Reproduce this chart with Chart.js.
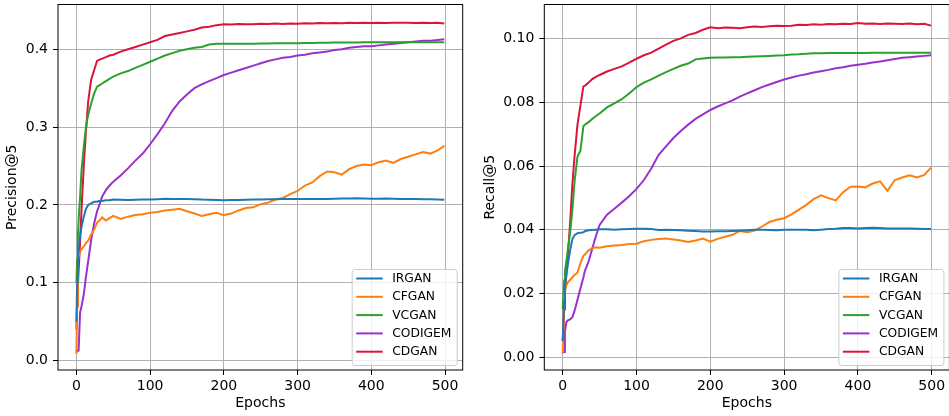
<!DOCTYPE html>
<html>
<head>
<meta charset="utf-8">
<script src="https://cdn.jsdelivr.net/npm/chart.js@4.4.1/dist/chart.umd.min.js"></script>
<style>
  html, body { margin: 0; padding: 0; background: #fff; overflow: hidden; width: 949px; height: 416px; }
  canvas { position: absolute; top: 0; }
  #precisionChart { left: 0; }
  #recallChart { left: 475px; }
</style>
</head>
<body>
<canvas id="precisionChart" width="475" height="416"></canvas>
<canvas id="recallChart" width="476" height="416"></canvas>
<script>
// training epochs at which each model was evaluated
const epochs = [0, 1, 2, 3, 5, 7, 10, 13, 16, 20, 24, 28, 30, 35, 40, 45, 50,
    60, 70, 80, 90, 100, 110, 120, 130, 140, 150, 160, 170, 180, 190, 200,
    210, 220, 230, 240, 250, 260, 270, 280, 290, 300, 310, 320, 330, 340, 350,
    360, 370, 380, 390, 400, 410, 420, 430, 440, 450, 460, 470, 480, 490, 499];

const models = ['IRGAN', 'CFGAN', 'VCGAN', 'CODIGEM', 'CDGAN'];
const colors = ['#1f77b4', '#ff7f0e', '#2ca02c', '#9932cc', '#dc143c'];

const xTicks = [0, 100, 200, 300, 400, 500];
const precisionTicks = [0.0, 0.1, 0.2, 0.3, 0.4];
const recallTicks = [0.00, 0.02, 0.04, 0.06, 0.08, 0.10];

// Precision@5
const precIRGAN = [0.05, 0.10, 0.13, 0.145, 0.16, 0.172, 0.185, 0.195, 0.200, 0.202, 0.204, 0.204, 0.205, 0.205, 0.206, 0.206, 0.207,
    0.2068, 0.2065, 0.2068, 0.2070, 0.2071, 0.2075, 0.2080, 0.2078, 0.2076, 0.2078, 0.2075, 0.2070, 0.2068, 0.2065, 0.2062,
    0.2063, 0.2065, 0.2068, 0.2070, 0.2072, 0.2073, 0.2075, 0.2077, 0.2078, 0.2078, 0.2077, 0.2076, 0.2077, 0.2078, 0.2080,
    0.2082, 0.2084, 0.2086, 0.2082, 0.2080, 0.2081, 0.2082, 0.2080, 0.2078, 0.2077, 0.2076, 0.2075, 0.2073, 0.2070, 0.2066];
const precCFGAN = [0.009, 0.07, 0.128, 0.134, 0.140, 0.143, 0.147, 0.151, 0.154, 0.162, 0.168, 0.177, 0.179, 0.184, 0.180, 0.183, 0.186,
    0.182, 0.185, 0.187, 0.188, 0.190, 0.191, 0.193, 0.194, 0.195, 0.192, 0.189, 0.186, 0.188, 0.190, 0.187,
    0.189, 0.193, 0.196, 0.197, 0.201, 0.203, 0.207, 0.209, 0.214, 0.218, 0.225, 0.229, 0.237, 0.243, 0.242,
    0.239, 0.246, 0.250, 0.252, 0.251, 0.255, 0.257, 0.254, 0.259, 0.262, 0.265, 0.268, 0.266, 0.270, 0.276];
const precVCGAN = [0.10, 0.13, 0.16, 0.18, 0.21, 0.245, 0.275, 0.300, 0.316, 0.330, 0.343, 0.352, 0.353, 0.356, 0.359, 0.362, 0.365,
    0.369, 0.372, 0.376, 0.380, 0.384, 0.388, 0.392, 0.395, 0.398, 0.400, 0.402, 0.403, 0.406, 0.407, 0.407,
    0.407, 0.407, 0.407, 0.4072, 0.4074, 0.4075, 0.4076, 0.4077, 0.4078, 0.4078, 0.408, 0.4082, 0.4083, 0.4085, 0.4086,
    0.4087, 0.4088, 0.4088, 0.4089, 0.409, 0.409, 0.409, 0.409, 0.409, 0.409, 0.409, 0.409, 0.409, 0.409, 0.409];
const precCODIGEM = [0.014, 0.012, 0.012, 0.013, 0.062, 0.070, 0.085, 0.108, 0.128, 0.155, 0.176, 0.192, 0.197, 0.211, 0.219, 0.225, 0.230,
    0.238, 0.247, 0.257, 0.266, 0.278, 0.291, 0.305, 0.321, 0.333, 0.342, 0.350, 0.355, 0.359, 0.363, 0.367,
    0.370, 0.373, 0.376, 0.379, 0.382, 0.385, 0.387, 0.389, 0.390, 0.392, 0.393, 0.395, 0.396, 0.397, 0.399,
    0.400, 0.402, 0.403, 0.404, 0.404, 0.405, 0.406, 0.407, 0.408, 0.409, 0.410, 0.411, 0.411, 0.412, 0.413];
const precCDGAN = [0.04, 0.07, 0.095, 0.115, 0.152, 0.195, 0.250, 0.295, 0.333, 0.361, 0.373, 0.385, 0.386, 0.388, 0.390, 0.392, 0.393,
    0.397, 0.400, 0.403, 0.406, 0.409, 0.412, 0.417, 0.419, 0.421, 0.423, 0.425, 0.428, 0.429, 0.431, 0.432,
    0.4318, 0.4325, 0.4320, 0.4322, 0.4328, 0.4324, 0.4330, 0.4326, 0.4332, 0.4329, 0.4335, 0.4331, 0.4336, 0.4333, 0.4338,
    0.4334, 0.4339, 0.4336, 0.4341, 0.4337, 0.4340, 0.4338, 0.4342, 0.4339, 0.4341, 0.4338, 0.4340, 0.4337, 0.4339, 0.4330];

// Recall@5
const recIRGAN = [0.005, 0.012, 0.018, 0.022, 0.026, 0.029, 0.0335, 0.037, 0.0383, 0.0389, 0.0390, 0.0392, 0.0395, 0.0398, 0.0399, 0.0400, 0.0401,
    0.0401, 0.0400, 0.0401, 0.0402, 0.0403, 0.0403, 0.0402, 0.0399, 0.0400, 0.0399, 0.0398, 0.0397, 0.0396, 0.0394, 0.0394,
    0.0395, 0.0395, 0.0396, 0.0397, 0.0398, 0.0400, 0.0400, 0.0399, 0.0398, 0.0400, 0.0400, 0.0400, 0.0400, 0.0398, 0.0400,
    0.0402, 0.0403, 0.0405, 0.0405, 0.0404, 0.0405, 0.0406, 0.0405, 0.0404, 0.0404, 0.0404, 0.0404, 0.0403, 0.0402, 0.0402];
const recCFGAN = [0.001, 0.010, 0.019, 0.021, 0.0225, 0.0235, 0.0242, 0.025, 0.0258, 0.0265, 0.0295, 0.0318, 0.0322, 0.0335, 0.0342, 0.0345, 0.0343,
    0.0348, 0.0350, 0.0352, 0.0355, 0.0356, 0.0364, 0.0368, 0.0371, 0.0372, 0.0369, 0.0366, 0.0361, 0.0366, 0.0372, 0.0362,
    0.0371, 0.0378, 0.0384, 0.0396, 0.0392, 0.0397, 0.0410, 0.0424, 0.0431, 0.0436, 0.0448, 0.0463, 0.0478, 0.0496, 0.0508,
    0.0499, 0.0492, 0.0518, 0.0535, 0.0536, 0.0533, 0.0545, 0.0552, 0.0522, 0.0556, 0.0564, 0.0571, 0.0564, 0.0572, 0.0595];
const recVCGAN = [0.015, 0.020, 0.024, 0.027, 0.030, 0.034, 0.039, 0.046, 0.055, 0.063, 0.0648, 0.0725, 0.0730, 0.0738, 0.0748, 0.0757, 0.0765,
    0.0784, 0.0797, 0.0810, 0.0828, 0.0848, 0.0862, 0.0872, 0.0884, 0.0895, 0.0905, 0.0915, 0.0922, 0.0935, 0.0938, 0.0940,
    0.0941, 0.0941, 0.0942, 0.0942, 0.0943, 0.0944, 0.0945, 0.0946, 0.0947, 0.0948, 0.0950, 0.0951, 0.0953, 0.0954, 0.0954,
    0.0955, 0.0955, 0.0955, 0.0955, 0.0955, 0.0955, 0.0956, 0.0956, 0.0956, 0.0956, 0.0956, 0.0956, 0.0956, 0.0956, 0.0956];
const recCODIGEM = [0.0015, 0.0015, 0.0016, 0.008, 0.011, 0.0115, 0.0118, 0.0125, 0.0145, 0.018, 0.0215, 0.025, 0.027, 0.030, 0.034, 0.038, 0.0415,
    0.0447, 0.0466, 0.0485, 0.0505, 0.0528, 0.0556, 0.0592, 0.0635, 0.0662, 0.0688, 0.0710, 0.0730, 0.0748, 0.0762, 0.0776,
    0.0787, 0.0797, 0.0806, 0.0818, 0.0828, 0.0838, 0.0848, 0.0856, 0.0864, 0.0872, 0.0878, 0.0884, 0.0888, 0.0894, 0.0898,
    0.0902, 0.0907, 0.0910, 0.0915, 0.0918, 0.0921, 0.0925, 0.0928, 0.0932, 0.0936, 0.0940, 0.0942, 0.0944, 0.0946, 0.0948];
const recCDGAN = [0.005, 0.010, 0.015, 0.020, 0.026, 0.032, 0.042, 0.054, 0.063, 0.073, 0.079, 0.085, 0.0852, 0.0862, 0.0873, 0.0880, 0.0886,
    0.0897, 0.0905, 0.0913, 0.0925, 0.0937, 0.0948, 0.0956, 0.0969, 0.0981, 0.0993, 0.1001, 0.1012, 0.1018, 0.1028, 0.1036,
    0.1033, 0.1035, 0.1034, 0.1033, 0.1036, 0.1038, 0.1037, 0.1039, 0.1041, 0.1040, 0.1041, 0.1044, 0.1043, 0.1045, 0.1044,
    0.1046, 0.1045, 0.1047, 0.1046, 0.1049, 0.1047, 0.1048, 0.1046, 0.1048, 0.1047, 0.1046, 0.1048, 0.1045, 0.1047, 0.1041];

const FONT = "'DejaVu Sans', 'Liberation Sans', sans-serif";

// axes frame on all four sides, drawn over the curves like matplotlib spines
const framePlugin = {
    id: 'frame',
    afterDatasetsDraw(chart) {
        const a = chart.chartArea, ctx = chart.ctx;
        ctx.save();
        ctx.strokeStyle = '#000';
        ctx.lineWidth = 1;
        ctx.strokeRect(a.left, a.top, a.right - a.left, a.bottom - a.top);
        ctx.restore();
    }
};

// legend box anchored at the lower right corner of the plot area
const cornerLegend = {
    id: 'cornerLegend',
    afterDraw(chart) {
        const a = chart.chartArea, ctx = chart.ctx;
        const w = 105, h = 96;
        const x0 = a.right - 6 - w, y0 = a.bottom - 5 - h;
        ctx.save();
        ctx.beginPath();
        ctx.roundRect(x0 + 0.5, y0 + 0.5, w, h, 3);
        ctx.fillStyle = 'rgba(255,255,255,0.8)';
        ctx.fill();
        ctx.strokeStyle = '#cccccc';
        ctx.lineWidth = 1;
        ctx.stroke();
        ctx.font = '12.3px ' + FONT;
        ctx.textBaseline = 'middle';
        ctx.fillStyle = '#000';
        chart.data.datasets.forEach((ds, i) => {
            const y = y0 + 9.5 + i * 18.3;
            ctx.beginPath();
            ctx.moveTo(x0 + 4.5, y);
            ctx.lineTo(x0 + 31, y);
            ctx.strokeStyle = ds.borderColor;
            ctx.lineWidth = 2;
            ctx.stroke();
            ctx.fillText(ds.label, x0 + 40.5, y + 0.5);
        });
        ctx.restore();
    }
};

// fixed axis box sizes, without the extra room Chart.js keeps for edge labels
function fixBox(s, size) {
    if (s.isHorizontal()) s.height = size; else s.width = size;
    s.paddingTop = 0;
    s.paddingBottom = 0;
    s.paddingLeft = 0;
    s.paddingRight = 0;
}

function makeChart(id, series, yTicks, cfg) {
    const datasets = series.map((vals, i) => ({
        label: models[i],
        data: epochs.map((e, j) => ({ x: e, y: vals[j] })),
        borderColor: colors[i],
        backgroundColor: colors[i],
        borderWidth: 2,
        pointRadius: 0,
        tension: 0
    }));

    return new Chart(document.getElementById(id).getContext('2d'), {
        type: 'line',
        data: { datasets: datasets },
        options: {
            responsive: false,
            animation: false,
            devicePixelRatio: 1,
            layout: { padding: { left: 0, top: 4.5, right: cfg.padRight, bottom: 0 } },
            plugins: { legend: { display: false }, tooltip: { enabled: false } },
            scales: {
                x: {
                    type: 'linear',
                    min: -24.95,
                    max: 523.95,
                    afterBuildTicks: s => { s.ticks = xTicks.map(v => ({ value: v })); },
                    afterFit: s => fixBox(s, 46),
                    border: { display: false },
                    grid: { color: '#b0b0b0', lineWidth: 1, tickColor: '#000', tickLength: 5, tickWidth: 1 },
                    ticks: {
                        autoSkip: false,
                        maxRotation: 0,
                        padding: 3,
                        color: '#000',
                        font: { family: FONT, size: 14 },
                        callback: v => String(v)
                    },
                    title: {
                        display: true,
                        text: 'Epochs',
                        color: '#000',
                        font: { family: FONT, size: 14 },
                        padding: { top: 0, bottom: 4 }
                    }
                },
                y: {
                    type: 'linear',
                    min: cfg.yMin,
                    max: cfg.yMax,
                    afterBuildTicks: s => { s.ticks = yTicks.map(v => ({ value: v })); },
                    afterFit: s => fixBox(s, cfg.yWidth),
                    border: { display: false },
                    grid: { color: '#b0b0b0', lineWidth: 1, tickColor: '#000', tickLength: 5, tickWidth: 1 },
                    ticks: {
                        autoSkip: false,
                        padding: 5,
                        color: '#000',
                        font: { family: FONT, size: 14 },
                        callback: v => v.toFixed(cfg.digits)
                    },
                    title: {
                        display: true,
                        text: cfg.yTitle,
                        color: '#000',
                        font: { family: FONT, size: 14 },
                        padding: { top: cfg.titlePad, bottom: 0 }
                    }
                }
            }
        },
        plugins: [framePlugin, cornerLegend]
    });
}

makeChart('precisionChart',
    [precIRGAN, precCFGAN, precVCGAN, precCODIGEM, precCDGAN],
    precisionTicks,
    { yMin: -0.01195, yMax: 0.4575, yWidth: 58, padRight: 12.3, digits: 1, yTitle: 'Precision@5', titlePad: 4 });

makeChart('recallChart',
    [recIRGAN, recCFGAN, recVCGAN, recCODIGEM, recCDGAN],
    recallTicks,
    { yMin: -0.00408, yMax: 0.11074, yWidth: 69.3, padRight: 1.6, digits: 2, yTitle: 'Recall@5', titlePad: 6.7 });
</script>
</body>
</html>
